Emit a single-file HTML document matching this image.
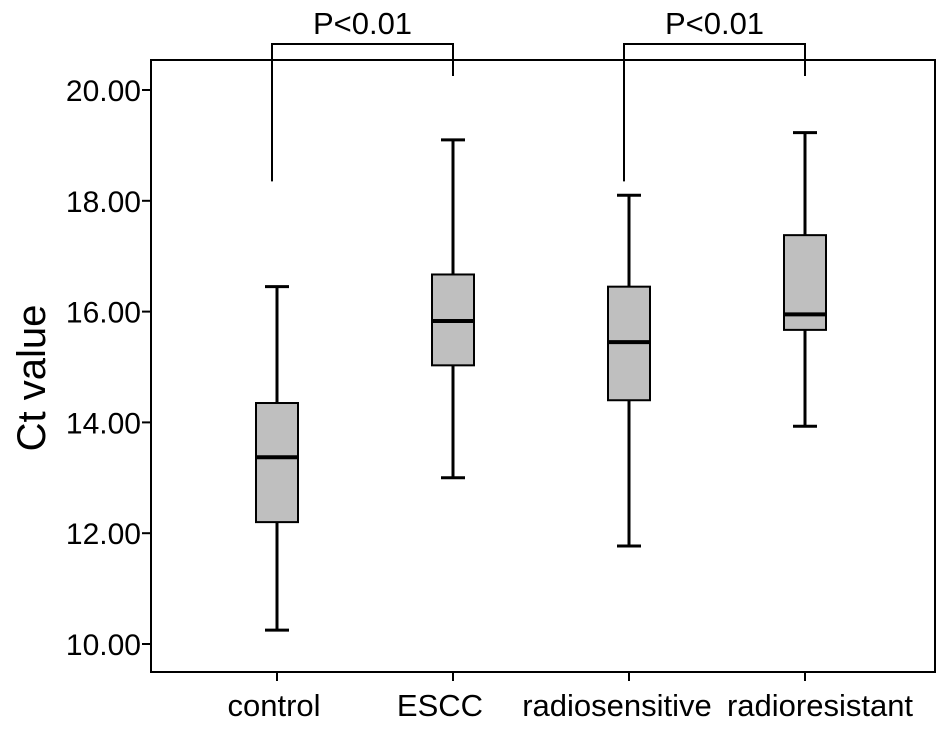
<!DOCTYPE html>
<html><head><meta charset="utf-8"><style>
body{margin:0;background:#fff}
svg text{font-family:"Liberation Sans",Arial,sans-serif;fill:#000}
</style></head><body>
<svg id="c" width="945" height="724" xmlns="http://www.w3.org/2000/svg"></svg>
<script>
const categories=["control","ESCC","radiosensitive","radioresistant"];
const whiskerLow=[10.25,13.0,11.77,13.93];
const q1=[12.2,15.03,14.4,15.67];
const medians=[13.37,15.83,15.45,15.95];
const q3=[14.35,16.67,16.45,17.38];
const whiskerHigh=[16.45,19.1,18.1,19.23];
const yTicks=[10,12,14,16,18,20];
const yTickLabels=["10.00","12.00","14.00","16.00","18.00","20.00"];
const comparisons=[[0,1,"P<0.01"],[2,3,"P<0.01"]];
const svg=document.getElementById('c');
const NS="http://www.w3.org/2000/svg";
const L=151,T=60,R=935,B=672;
const y=v=>644-(v-10)*55.4;
const x=i=>277+i*176;
const labelShift=[-3,-13,-12,15];
function mk(t,a,p){const e=document.createElementNS(NS,t);for(const k in a)e.setAttribute(k,a[k]);(p||svg).appendChild(e);return e;}
let f=mk('rect',{x:L,y:T,width:R-L,height:B-T,fill:'none',stroke:'#000','stroke-width':2});


yTicks.forEach((v,i)=>{
 let l=mk('line',{x1:L-9,x2:L,y1:y(v),y2:y(v),stroke:'#000','stroke-width':2});
 
 
 let t=mk('text',{x:L-10,y:y(v)+11,'text-anchor':'end','font-size':30});
 t.textContent=yTickLabels[i];
 
 
});
let yl=mk('text',{x:0,y:0,'font-size':40,'text-anchor':'middle',transform:'translate(45,378) rotate(-90)'});
yl.textContent='Ct value';


categories.forEach((c,i)=>{
 const cx=x(i);
 let g=mk('g',{});
 
 
 mk('line',{x1:cx,x2:cx,y1:B,y2:B+9,stroke:'#000','stroke-width':2},g);
 mk('line',{x1:cx,x2:cx,y1:y(whiskerLow[i]),y2:y(whiskerHigh[i]),stroke:'#000','stroke-width':3},g);
 mk('line',{x1:cx-12,x2:cx+12,y1:y(whiskerLow[i]),y2:y(whiskerLow[i]),stroke:'#000','stroke-width':3},g);
 mk('line',{x1:cx-12,x2:cx+12,y1:y(whiskerHigh[i]),y2:y(whiskerHigh[i]),stroke:'#000','stroke-width':3},g);
 mk('rect',{x:cx-21,y:y(q3[i]),width:42,height:y(q1[i])-y(q3[i]),fill:'#bfbfbf',stroke:'#000','stroke-width':2},g);
 mk('line',{x1:cx-21,x2:cx+21,y1:y(medians[i]),y2:y(medians[i]),stroke:'#000','stroke-width':4},g);
 let t=mk('text',{x:cx+labelShift[i],y:716,'text-anchor':'middle','font-size':31});
 t.textContent=c;
 
 
});
comparisons.forEach(([a,b,lab])=>{
 const xa=x(a)-5,xb=x(b);
 let p=mk('path',{d:`M${xa} ${y(18.35)}V44H${xb}V76`,fill:'none',stroke:'#000','stroke-width':2});
 
 
 let t=mk('text',{x:(xa+xb)/2,y:34,'text-anchor':'middle','font-size':31});
 t.textContent=lab;
 
 
});
</script>
</body></html>
